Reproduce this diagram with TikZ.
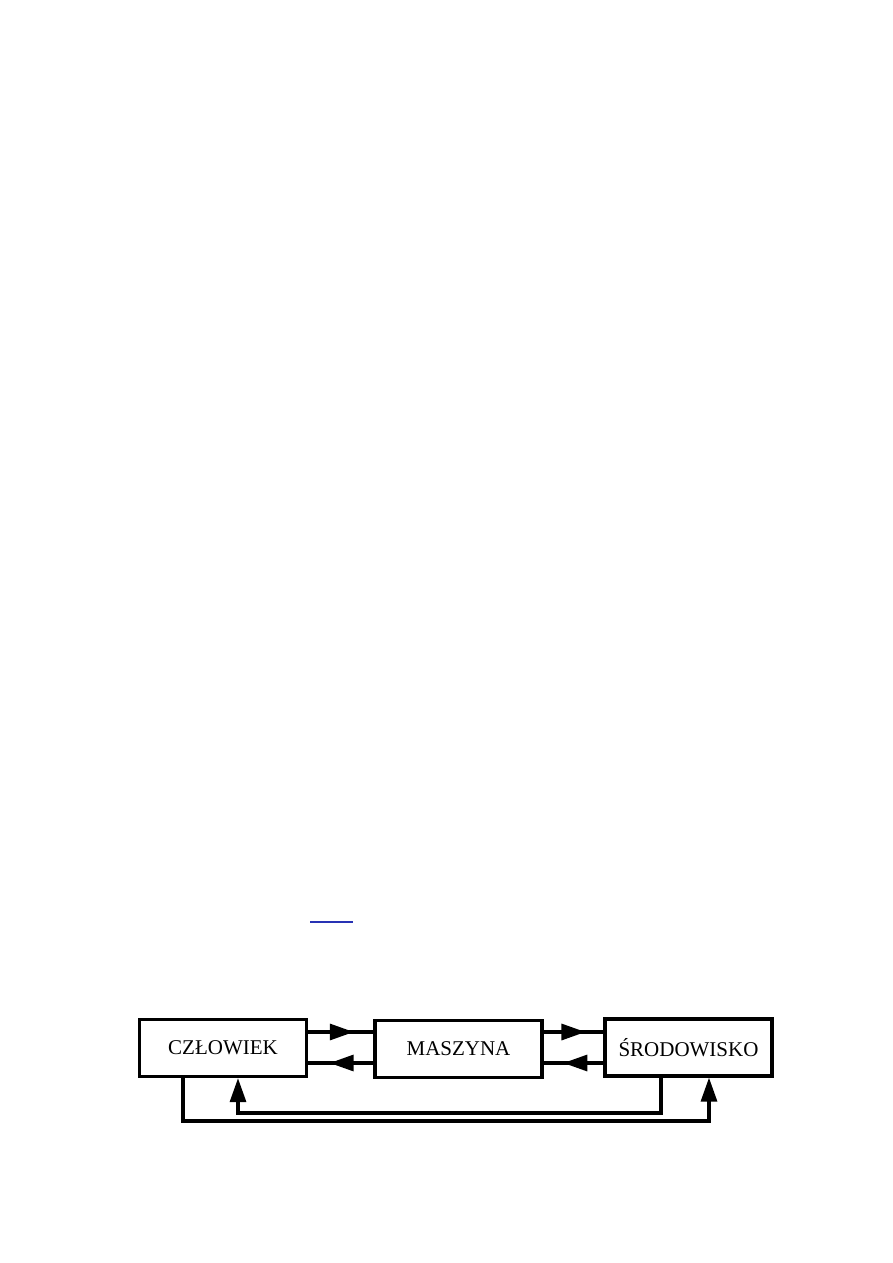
\documentclass[tikz,border=0pt]{standalone}
\usepackage{fontspec}
\setmainfont{Liberation Serif}
\usetikzlibrary{arrows.meta,decorations.markings}
\begin{document}
\begin{tikzpicture}[x=1pt,y=-1pt,
  blok/.style={draw,line width=3.3pt,minimum width=167pt,minimum height=57pt,inner sep=0pt,font=\fontsize{21}{25}\selectfont},
  conn/.style={line width=3.2pt},
  tip/.style={-{Triangle[length=24pt,width=16pt]}},
  midtip/.style={postaction={decorate},decoration={markings,mark=at position #1 with {\arrow{Triangle[length=24pt,width=16pt]}}}}]
\useasboundingbox (0,0) rectangle (893,1263);
\draw[line width=2.5pt,color={rgb,255:red,40;green,50;blue,180}] (310,922) -- (353,922);
\node[blok] (C) at (223,1048) {CZŁOWIEK};
\node[blok] (M) at (458.5,1049) {MASZYNA};
\node[blok] (S) at (688.5,1047.5) {ŚRODOWISKO};
% C <-> M
\coordinate (ya) at (0,1032);
\coordinate (yb) at (0,1063);
\draw[conn,midtip=0.7] (C.east |- ya) -- (M.west |- ya);
\draw[conn,midtip=0.67] (M.west |- yb) -- (C.east |- yb);
% M <-> S
\draw[conn,midtip=0.7] (M.east |- ya) -- (S.west |- ya);
\draw[conn,midtip=0.67] (S.west |- yb) -- (M.east |- yb);
% bottom feedback loops
\coordinate (x1) at (183,1121);
\coordinate (x2) at (709,1121);
\coordinate (x3) at (661,1113);
\coordinate (x4) at (238,1113);
\draw[conn,tip,line join=miter] (C.south -| x1) -- (x1) -- (x2) -- (S.south -| x2);
\draw[conn,tip,line join=miter] (S.south -| x3) -- (x3) -- (x4) -- (C.south -| x4);
\end{tikzpicture}
\end{document}
